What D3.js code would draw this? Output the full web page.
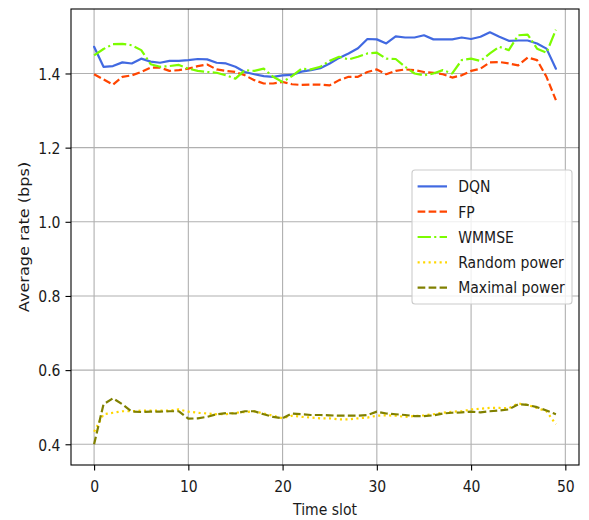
<!DOCTYPE html>
<html>
<head>
<meta charset="utf-8">
<script src="https://cdnjs.cloudflare.com/ajax/libs/d3/7.8.5/d3.min.js"></script>
<style>
  body { margin: 0; background: #fff; }
  svg text { font-family: "DejaVu Sans", sans-serif; fill: #1a1a1a; }
</style>
</head>
<body>
<main></main>
<script>

var slots = d3.range(0, 50);

var dqn = [1.472, 1.418, 1.420, 1.430, 1.427, 1.440, 1.432, 1.429, 1.434, 1.434,
           1.436, 1.439, 1.438, 1.429, 1.427, 1.418, 1.404, 1.398, 1.393, 1.391,
           1.395, 1.396, 1.405, 1.409, 1.414, 1.427, 1.442, 1.454, 1.468, 1.493,
           1.492, 1.481, 1.500, 1.497, 1.497, 1.503, 1.492, 1.492, 1.492, 1.497,
           1.493, 1.499, 1.511, 1.499, 1.488, 1.489, 1.489, 1.481, 1.467, 1.413];

var fp = [1.398, 1.384, 1.370, 1.391, 1.395, 1.404, 1.416, 1.416, 1.407, 1.409,
          1.413, 1.420, 1.424, 1.411, 1.407, 1.404, 1.395, 1.382, 1.373, 1.373,
          1.377, 1.371, 1.369, 1.370, 1.370, 1.368, 1.382, 1.391, 1.391, 1.404,
          1.411, 1.398, 1.407, 1.411, 1.409, 1.404, 1.402, 1.398, 1.389, 1.395,
          1.407, 1.413, 1.430, 1.431, 1.427, 1.422, 1.443, 1.436, 1.391, 1.328];

var wmmse = [1.449, 1.466, 1.479, 1.480, 1.476, 1.463, 1.425, 1.418, 1.420, 1.423,
             1.413, 1.407, 1.404, 1.402, 1.395, 1.386, 1.409, 1.407, 1.413, 1.391,
             1.377, 1.393, 1.413, 1.411, 1.418, 1.434, 1.445, 1.438, 1.445, 1.454,
             1.456, 1.440, 1.439, 1.418, 1.400, 1.395, 1.400, 1.409, 1.400, 1.436,
             1.440, 1.434, 1.454, 1.472, 1.463, 1.503, 1.505, 1.467, 1.456, 1.518];

var randomPower = [0.434, 0.481, 0.485, 0.489, 0.489, 0.491, 0.491, 0.491, 0.491, 0.494,
                   0.488, 0.485, 0.483, 0.481, 0.481, 0.485, 0.487, 0.489, 0.483, 0.477,
                   0.470, 0.477, 0.474, 0.472, 0.470, 0.470, 0.467, 0.467, 0.470, 0.472,
                   0.477, 0.478, 0.477, 0.474, 0.476, 0.478, 0.481, 0.485, 0.488, 0.489,
                   0.494, 0.496, 0.498, 0.498, 0.497, 0.510, 0.506, 0.498, 0.489, 0.454];

var maxPower = [0.400, 0.508, 0.524, 0.508, 0.488, 0.487, 0.488, 0.488, 0.489, 0.489,
                0.469, 0.470, 0.474, 0.481, 0.484, 0.483, 0.489, 0.489, 0.481, 0.474,
                0.470, 0.483, 0.481, 0.479, 0.479, 0.478, 0.477, 0.477, 0.477, 0.479,
                0.488, 0.483, 0.481, 0.479, 0.476, 0.476, 0.478, 0.483, 0.485, 0.486,
                0.488, 0.486, 0.489, 0.491, 0.494, 0.508, 0.506, 0.500, 0.491, 0.481];

var seriesNames = ["DQN", "FP", "WMMSE", "Random power", "Maximal power"];
var seriesValues = [dqn, fp, wmmse, randomPower, maxPower];

var xTicks = [0, 10, 20, 30, 40, 50];
var yTicks = [0.4, 0.6, 0.8, 1.0, 1.2, 1.4];

var xLabel = "Time slot";
var yLabel = "Average rate (bps)";

// line styles, matplotlib-ish at lw 1.5pt
var lw = 2.2;
var styles = [
    {color: "#4169E1", dash: null},
    {color: "#FF4500", dash: [7.7, 3.3]},
    {color: "#7CFC00", dash: [13.3, 3.3, 2.1, 3.3]},
    {color: "#FFD700", dash: [2.1, 3.4]},
    {color: "#808000", dash: [7.7, 3.3]}
];

var svg = d3.select("main").append("svg").attr("width", "589").attr("height", "520"),
    fs = 14,
    stretch = 1.15; // the reference picture is a bit taller than wide, text too

// plot area ("top" is taken by window.top, so prefix these)
var pLeft = 71, pRight = 579, pTop = 9, pBottom = 465;

// 5% margins like matplotlib autoscale
var allVals = d3.merge(seriesValues);
var yMin = d3.min(allVals), yMax = d3.max(allVals);
var yPad = (yMax - yMin) * 0.05;
var xPad = (d3.max(slots) - d3.min(slots)) * 0.05;

var x = d3.scaleLinear()
    .domain([d3.min(slots) - xPad, d3.max(slots) + xPad])
    .range([pLeft, pRight]);

var y = d3.scaleLinear()
    .domain([yMin - yPad, yMax + yPad])
    .range([pBottom, pTop]);

// grid
var grid = svg.append("g").attr("class", "grid");
grid.selectAll(".gx").data(xTicks).enter().append("line")
    .attr("x1", d => x(d)).attr("x2", d => x(d))
    .attr("y1", pTop).attr("y2", pBottom)
    .attr("stroke", "#b0b0b0").attr("stroke-width", 1.1);
grid.selectAll(".gy").data(yTicks).enter().append("line")
    .attr("x1", pLeft).attr("x2", pRight)
    .attr("y1", d => y(d)).attr("y2", d => y(d))
    .attr("stroke", "#b0b0b0").attr("stroke-width", 1.1);

// axes
var xAxis = svg.append("g")
    .attr("transform", "translate(0," + pBottom + ")")
    .call(d3.axisBottom(x).tickValues(xTicks).tickFormat(d3.format("d")).tickSize(5.6));

var yAxis = svg.append("g")
    .attr("transform", "translate(" + pLeft + ",0)")
    .call(d3.axisLeft(y).tickValues(yTicks).tickFormat(d3.format(".1f")).tickSize(5.5).tickPadding(5));

[xAxis, yAxis].forEach(function(a){
    a.select(".domain").remove();
    a.selectAll(".tick line").attr("stroke", "#000").attr("stroke-width", 1.1);
    a.selectAll(".tick text").attr("font-size", fs).attr("fill", "#1a1a1a")
        .attr("font-family", "DejaVu Sans");
});

// stretch tick text vertically like the reference
xAxis.selectAll(".tick text")
    .attr("y", 0).attr("dy", 0)
    .attr("transform", "translate(0,26.5) scale(1," + stretch + ")");
yAxis.selectAll(".tick text")
    .attr("dy", "0.36em")
    .attr("transform", "scale(1," + stretch + ")");

// series
var line = d3.line()
    .x((d, i) => x(slots[i]))
    .y(d => y(d));

var plot = svg.append("g").attr("class", "lines");
seriesValues.forEach(function(vals, k){
    plot.append("path")
        .datum(vals)
        .attr("d", line)
        .attr("fill", "none")
        .attr("stroke", styles[k].color)
        .attr("stroke-width", lw)
        .attr("stroke-linejoin", "round")
        .attr("stroke-linecap", styles[k].dash ? "butt" : "round")
        .attr("stroke-dasharray", styles[k].dash ? styles[k].dash.join(",") : null);
});

// frame
svg.append("rect")
    .attr("x", pLeft).attr("y", pTop)
    .attr("width", pRight - pLeft).attr("height", pBottom - pTop)
    .attr("fill", "none").attr("stroke", "#000").attr("stroke-width", 1.1);

// labels
svg.append("text")
    .attr("transform", "translate(" + (pLeft + pRight) / 2 + ",515) scale(1," + stretch + ")")
    .attr("text-anchor", "middle")
    .attr("font-size", fs)
    .text(xLabel);

svg.append("text")
    .attr("transform", "translate(23.5," + (pTop + pBottom) / 2 + ") rotate(-90) scale(" + stretch + ",1)")
    .attr("text-anchor", "middle")
    .attr("dy", "0.36em")
    .attr("font-size", fs)
    .text(yLabel);

// legend (center right)
var rowStep = 25.3, legW = 160, legH = 134;
var legX = pRight - 0.5 * fs - legW, legY = (pTop + pBottom) / 2 - legH / 2;

var legend = svg.append("g").attr("class", "legend");
legend.append("rect")
    .attr("x", legX).attr("y", legY)
    .attr("width", legW).attr("height", legH)
    .attr("rx", 3).attr("ry", 3)
    .attr("fill", "#fff").attr("fill-opacity", 0.8)
    .attr("stroke", "#cccccc").attr("stroke-width", 1.1);

var items = legend.selectAll(".item").data(seriesNames).enter().append("g")
    .attr("transform", (d, i) => "translate(" + (legX + 0.4 * fs) + "," + (legY + legH / 2 + (i - 2) * rowStep) + ")");

items.append("line")
    .attr("x1", 0).attr("x2", 2.1 * fs)
    .attr("y1", 0).attr("y2", 0)
    .attr("stroke", (d, i) => styles[i].color)
    .attr("stroke-width", lw)
    .attr("stroke-dasharray", (d, i) => styles[i].dash ? styles[i].dash.join(",") : null);

items.append("text")
    .attr("transform", "translate(" + 2.9 * fs + ",0) scale(1," + stretch + ")")
    .attr("dy", "0.36em")
    .attr("font-size", fs)
    .text(d => d);

</script>
</body>
</html>
